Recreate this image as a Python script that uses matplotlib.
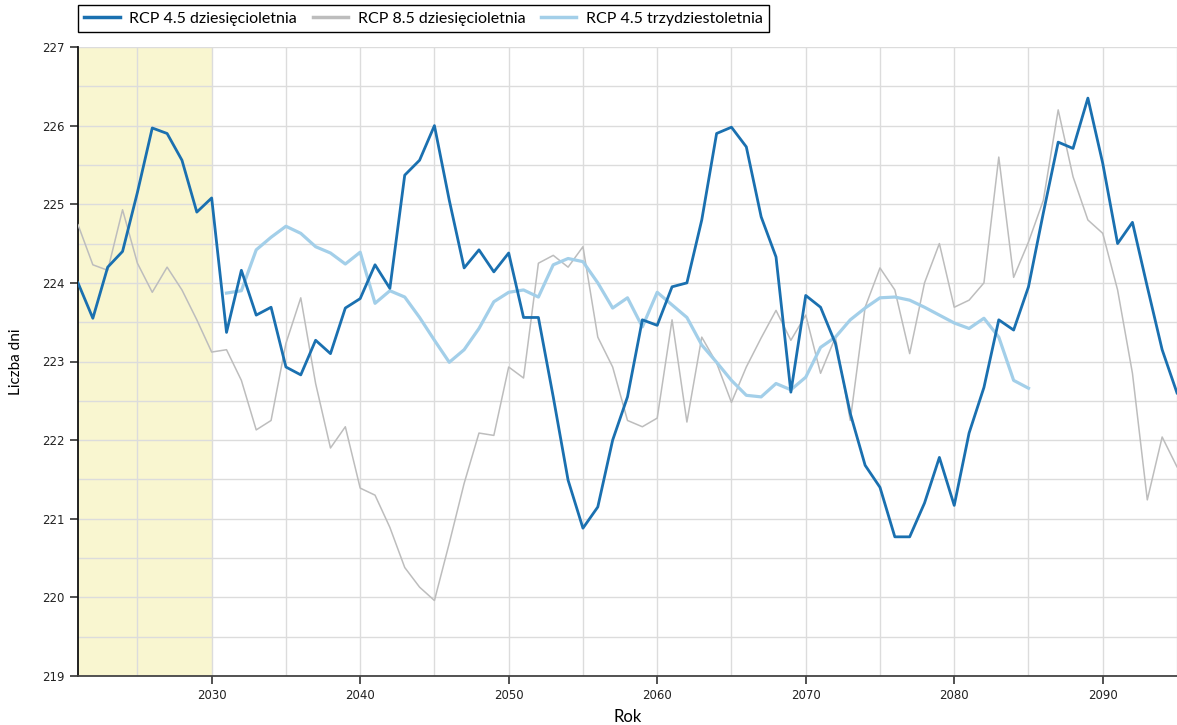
import numpy as np
import matplotlib.pyplot as plt

# yearly values
years_rcp45 = list(range(2021, 2096))
rcp45_dec = [224.0, 223.55, 224.2, 224.4, 225.15, 225.97, 225.9, 225.56, 224.9, 225.08,
             223.37, 224.16, 223.59, 223.69, 222.93, 222.83, 223.27, 223.1, 223.68, 223.8,
             224.23, 223.93, 225.37, 225.56, 226.0, 225.05, 224.19, 224.42, 224.14, 224.38,
             223.56, 223.56, 222.55, 221.49, 220.88, 221.15, 222.0, 222.55, 223.53, 223.46,
             223.95, 224.0, 224.8, 225.9, 225.98, 225.73, 224.84, 224.33, 222.61, 223.84,
             223.69, 223.23, 222.34, 221.68, 221.4, 220.77, 220.77, 221.2, 221.78, 221.17,
             222.09, 222.67, 223.53, 223.4, 223.95, 224.89, 225.79, 225.71, 226.35, 225.52,
             224.5, 224.77, 223.95, 223.15, 222.6]

years_rcp85 = list(range(2021, 2096))
rcp85_dec = [224.74, 224.23, 224.16, 224.93, 224.25, 223.88, 224.2, 223.91, 223.53, 223.12,
             223.15, 222.76, 222.13, 222.25, 223.23, 223.81, 222.72, 221.9, 222.17, 221.39,
             221.3, 220.89, 220.38, 220.13, 219.96, 220.69, 221.45, 222.09, 222.06, 222.93,
             222.79, 224.25, 224.35, 224.2, 224.46, 223.31, 222.93, 222.25, 222.17, 222.28,
             223.53, 222.23, 223.31, 222.98, 222.48, 222.93, 223.3, 223.65, 223.27, 223.59,
             222.85, 223.31, 222.25, 223.69, 224.19, 223.91, 223.1, 224.0, 224.5, 223.69,
             223.78, 224.0, 225.6, 224.07, 224.52, 225.05, 226.2, 225.35, 224.8, 224.63,
             223.91, 222.85, 221.24, 222.04, 221.66]

years_rcp45_30 = list(range(2031, 2086))
rcp45_30 = [223.87, 223.9, 224.42, 224.58, 224.72, 224.63, 224.46, 224.38, 224.24, 224.39,
            223.74, 223.9, 223.82, 223.56, 223.27, 222.99, 223.15, 223.42, 223.76, 223.88,
            223.91, 223.82, 224.23, 224.31, 224.27, 224.0, 223.68, 223.81, 223.44, 223.88,
            223.72, 223.56, 223.21, 222.99, 222.76, 222.57, 222.55, 222.72, 222.64, 222.8,
            223.18, 223.31, 223.53, 223.68, 223.81, 223.82, 223.78, 223.69, 223.59, 223.49,
            223.42, 223.55, 223.31, 222.76, 222.66]

x_ticks = [2030, 2040, 2050, 2060, 2070, 2080, 2090]
y_ticks = [219, 220, 221, 222, 223, 224, 225, 226, 227]

fig = plt.figure(figsize=(11.77, 7.25), dpi=100)
ax = fig.add_axes([78 / 1177, 1 - 676 / 725, 1 - 78 / 1177, (676 - 47) / 725])

# reference period band
ax.axvspan(2021, 2030, color='#f9f6d0', zorder=0, lw=0)

ax.set_xticks(np.arange(2025, 2096, 5), minor=True)
ax.set_yticks(np.arange(219, 227.01, 0.5), minor=True)
ax.grid(True, which='both', color='#dcdcdc', linewidth=1, zorder=1)

ax.plot(years_rcp85, rcp85_dec, color='#bdbdbd', lw=1.1, label='RCP 8.5 dziesięcioletnia', zorder=3)
ax.plot(years_rcp45_30, rcp45_30, color='#a3cfe9', lw=2.3, label='RCP 4.5 trzydziestoletnia', zorder=3,
        solid_joinstyle='round')
ax.plot(years_rcp45, rcp45_dec, color='#1a70b0', lw=2.0, label='RCP 4.5 dziesięcioletnia', zorder=4,
        solid_joinstyle='round')

ax.set_xlim(2021, 2095)
ax.set_ylim(219, 227)
ax.set_xticks(x_ticks)
ax.set_yticks(y_ticks)
ax.tick_params(which='minor', length=0)
ax.tick_params(which='major', length=6, width=1.2, color='#333333', labelsize=8.5, labelcolor='#222222')
for s in ['top', 'right']:
    ax.spines[s].set_visible(False)
ax.spines['left'].set_color('#111111')
ax.spines['bottom'].set_color('#444444')
ax.spines['left'].set_linewidth(1.3)
ax.spines['bottom'].set_linewidth(1.3)

ax.set_xlabel('Rok', fontsize=12, family='Lato', labelpad=5)
ax.set_ylabel('Liczba dni', fontsize=11, family='Lato', labelpad=14)

handles, labels = ax.get_legend_handles_labels()
order = [2, 0, 1]
leg = fig.legend([handles[i] for i in order], [labels[i] for i in order],
                 loc='upper left', bbox_to_anchor=(78 / 1177, 1 - 5 / 725), ncol=3,
                 frameon=True, fancybox=False, edgecolor='black', framealpha=1,
                 prop={'family': 'Lato', 'size': 11.5}, handlelength=2.2,
                 columnspacing=1.0, handletextpad=0.6, borderpad=0.4, borderaxespad=0)
leg.get_frame().set_linewidth(1.0)
for line in leg.get_lines():
    line.set_linewidth(2.5)

plt.savefig('out.png', dpi=100)
